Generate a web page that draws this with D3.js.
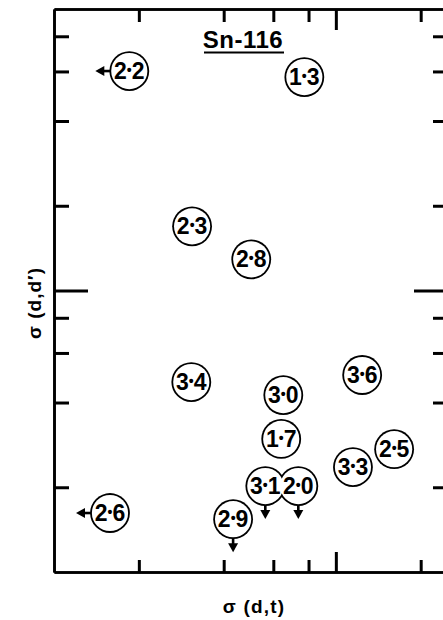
<!DOCTYPE html>
<html><head><meta charset="utf-8">
<script src="https://cdn.jsdelivr.net/npm/d3@7"></script>
<style>
body{margin:0;background:#fff;}
svg{display:block;}
</style></head>
<body>
<svg id="c" width="443" height="620"></svg>
<script>
// Data : excitation energy labels, sigma(d,t), sigma(d,d')
const labels = ["2•2","1•3","2•3","2•8","3•4","3•6","3•0","1•7","3•3","2•5","3•1","2•0","2•6","2•9"];
const sigmaDT  = [1.85, 7.73, 3.09, 5.01, 3.07, 12.4, 6.51, 6.40, 11.5, 16.1, 5.62, 7.36, 1.58, 4.32];
const sigmaDD  = [60.2, 57.3, 16.9, 12.9, 4.73, 5.01, 4.25, 2.97, 2.36, 2.73, 2.02, 2.02, 1.62, 1.54];
const limits   = ["left","","","","","","","","","","down","down","left","down"];
const xMinorTicks = [2,4,6,8,20];
const xMajorTicks = [10];
const yMinorTicks = [2,4,6,8,20,40,60,80];
const yMajorTicks = [10];
const title = "Sn-116";
const xLabel = "σ (d,t)";
const yLabel = "σ (d,d′)";

const svg = d3.select("#c");
const L = 54, R = 448, T = 9, B = 572;
const x = d3.scaleLog().domain([1, 25]).range([L, R]);
const y = d3.scaleLog().domain([1, 100]).range([B, T]);

function styleAxis(g){
  g.selectAll("path.domain").attr("stroke","#000").attr("stroke-width",2.6);
  g.selectAll(".tick line").attr("stroke","#000").attr("stroke-width",3);
  g.selectAll(".tick text").remove();
}
function addAxis(gen, tx, ty){
  const g = svg.append("g").attr("transform",`translate(${tx},${ty})`).call(gen);
  styleAxis(g);
  return g;
}
// bottom
addAxis(d3.axisBottom(x).tickValues(xMinorTicks).tickSizeInner(-12).tickSizeOuter(0).tickFormat(""),0,B);
addAxis(d3.axisBottom(x).tickValues(xMajorTicks).tickSizeInner(-20).tickSizeOuter(0).tickFormat(""),0,B);
// top
addAxis(d3.axisTop(x).tickValues(xMinorTicks).tickSizeInner(-13).tickSizeOuter(0).tickFormat(""),0,T);
addAxis(d3.axisTop(x).tickValues(xMajorTicks).tickSizeInner(-21).tickSizeOuter(0).tickFormat(""),0,T);
// left
addAxis(d3.axisLeft(y).tickValues(yMinorTicks).tickSizeInner(-15).tickSizeOuter(0).tickFormat(""),L,0);
addAxis(d3.axisLeft(y).tickValues(yMajorTicks).tickSizeInner(-34).tickSizeOuter(0).tickFormat(""),L,0);
// right
addAxis(d3.axisRight(y).tickValues(yMinorTicks).tickSizeInner(-15).tickSizeOuter(0).tickFormat(""),R,0);
addAxis(d3.axisRight(y).tickValues(yMajorTicks).tickSizeInner(-34).tickSizeOuter(0).tickFormat(""),R,0);

const font = "Liberation Sans Narrow, Liberation Sans, Arial, sans-serif";
// title
svg.append("text").attr("x",243).attr("y",48).attr("text-anchor","middle")
  .attr("font-family",font).attr("font-size",24)
  .attr("font-weight","bold").attr("letter-spacing",0.5).text(title);
svg.append("line").attr("x1",204).attr("x2",284).attr("y1",52.5).attr("y2",52.5)
  .attr("stroke","#000").attr("stroke-width",2.2);

// axis labels
svg.append("text").attr("x",254).attr("y",613).attr("text-anchor","middle")
  .attr("font-family","Liberation Sans, Arial, sans-serif").attr("font-size",19)
  .attr("font-weight","bold").attr("letter-spacing",1.2).text(xLabel);
svg.append("text").attr("transform","translate(41,303) rotate(-90)").attr("text-anchor","middle")
  .attr("font-family","Liberation Sans, Arial, sans-serif").attr("font-size",19)
  .attr("font-weight","bold").attr("letter-spacing",1).text(yLabel);

const data = labels.map((l,i)=>({l, x:sigmaDT[i], y:sigmaDD[i], lim:limits[i]}));
const r = 19;

// arrows
const arr = svg.append("g");
data.forEach(d=>{
  const cx = x(d.x), cy = y(d.y);
  if(d.lim==="left"){
    const x0 = cx - r, tip = cx - r - 15;
    arr.append("line").attr("x1",x0).attr("x2",tip+6).attr("y1",cy).attr("y2",cy).attr("stroke","#000").attr("stroke-width",2.6);
    arr.append("path").attr("d",`M${tip},${cy} L${tip+9},${cy-5} L${tip+9},${cy+5} Z`).attr("fill","#000");
  } else if(d.lim==="down"){
    const y0 = cy + r, tip = cy + r + 14;
    arr.append("line").attr("x1",cx).attr("x2",cx).attr("y1",y0).attr("y2",tip-6).attr("stroke","#000").attr("stroke-width",2.6);
    arr.append("path").attr("d",`M${cx},${tip} L${cx-5},${tip-9} L${cx+5},${tip-9} Z`).attr("fill","#000");
  }
});

// circles: union outlines
svg.append("g").selectAll("circle").data(data).join("circle")
  .attr("cx",d=>x(d.x)).attr("cy",d=>y(d.y)).attr("r",r+0.9).attr("fill","#000");
svg.append("g").selectAll("circle").data(data).join("circle")
  .attr("cx",d=>x(d.x)).attr("cy",d=>y(d.y)).attr("r",r-0.9).attr("fill","#fff");

const lt = svg.append("g").selectAll("text").data(data).join("text")
  .attr("x",d=>x(d.x)).attr("y",d=>y(d.y)+8).attr("text-anchor","middle")
  .attr("font-family",font).attr("font-size",23)
  .attr("font-weight","bold");
lt.each(function(d){
  const parts = d.l.split("•");
  const t = d3.select(this);
  t.append("tspan").text(parts[0]);
  t.append("tspan").attr("font-size",14).attr("dy",-4).text("•");
  t.append("tspan").attr("dy",4).text(parts[1]);
});
</script>
</body></html>
